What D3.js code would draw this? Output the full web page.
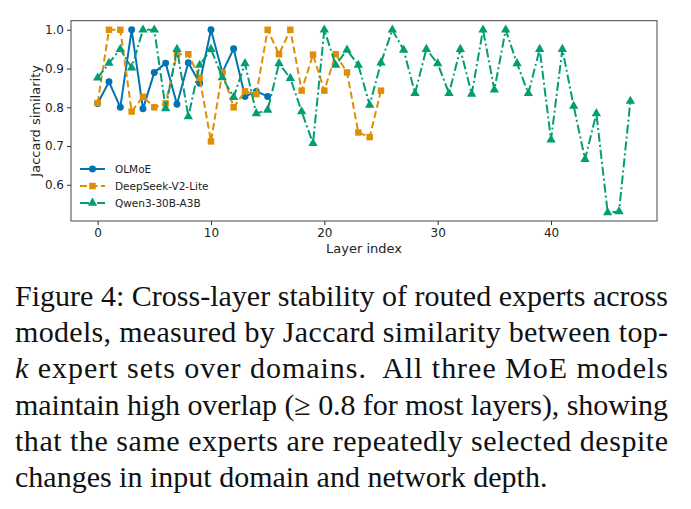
<!DOCTYPE html>
<html>
<head>
<meta charset="utf-8">
<script src="https://cdn.jsdelivr.net/npm/d3@7"></script>
<style>
  body { margin: 0; background: #fff; }
  svg { display: block; }
</style>
</head>
<body>
<div id="chart"></div>
<script>
// values, one entry per layer starting at 0
var olmoe = [0.81, 0.866, 0.80, 1.0, 0.796, 0.89, 0.914, 0.808, 0.915, 0.862, 1.0, 0.89, 0.951, 0.828, 0.841, 0.828];
var deepseek = [0.811, 1.0, 1.0, 0.789, 0.827, 0.80, 0.81, 0.937, 0.937, 0.876, 0.712, 0.89, 0.80, 0.841, 0.834,
  1.0, 0.937, 1.0, 0.843, 0.936, 0.843, 0.937, 0.89, 0.735, 0.723, 0.843];
var qwen = [0.876, 0.914, 0.95, 0.902, 1.0, 1.0, 0.797, 0.95, 0.776, 0.909, 0.95, 0.877, 0.826, 0.913, 0.784, 0.793,
  0.913, 0.875, 0.789, 0.707, 1.0, 0.909, 0.948, 0.909, 0.806, 0.915, 1.0, 0.948, 0.836, 0.95, 0.913, 0.836,
  0.95, 0.834, 1.0, 0.845, 1.0, 0.913, 0.836, 0.95, 0.716, 0.95, 0.803, 0.666, 0.784, 0.528, 0.531, 0.816];
var seriesNames = ["OLMoE", "DeepSeek-V2-Lite", "Qwen3-30B-A3B"];
var xTicks = [0, 10, 20, 30, 40];
var yTicks = [0.6, 0.7, 0.8, 0.9, 1.0];
var caption = [
  "Figure 4: Cross-layer stability of routed experts across",
  "models, measured by Jaccard similarity between top-",
  "k expert sets over domains.  All three MoE models",
  "maintain high overlap (\u2265 0.8 for most layers), showing",
  "that the same experts are repeatedly selected despite",
  "changes in input domain and network depth."
];

var svg = d3.select("#chart").append("svg")
    .attr("width", 691)
    .attr("height", 509),
    margin = {top: 20.7, left: 71, right: 657, bottom: 221};

var x = d3.scaleLinear().domain([-2.35, 49.35]).range([margin.left, margin.right]);
var y = d3.scaleLinear().domain([0.5065, 1.0235]).range([margin.bottom, margin.top]);

var series = [
  {name: seriesNames[0], values: olmoe, color: "#0173B2", dash: null, marker: d3.symbolCircle, size: 38},
  {name: seriesNames[1], values: deepseek, color: "#DE8F05", dash: "7,3.5", marker: d3.symbolSquare, size: 42},
  {name: seriesNames[2], values: qwen, color: "#029E73", dash: "9,3,2,3", marker: d3.symbolTriangle, size: 38}
];

var line = d3.line()
    .x(function(d, i) { return x(i); })
    .y(function(d) { return y(d); });

var plot = svg.append("g");

series.forEach(function(s) {
  plot.append("path")
      .datum(s.values)
      .attr("d", line)
      .attr("fill", "none")
      .attr("stroke", s.color)
      .attr("stroke-width", 2)
      .attr("stroke-dasharray", s.dash);

  plot.append("g").selectAll("path")
      .data(s.values)
    .enter().append("path")
      .attr("transform", function(d, i) { return "translate(" + x(i) + "," + y(d) + ")"; })
      .attr("d", d3.symbol().type(s.marker).size(s.size))
      .attr("fill", s.color);
});

// axes
var xAxis = svg.append("g")
    .attr("transform", "translate(0," + margin.bottom + ")")
    .call(d3.axisBottom(x).tickValues(xTicks).tickSize(4).tickPadding(3).tickSizeOuter(0));
var yAxis = svg.append("g")
    .attr("transform", "translate(" + margin.left + ",0)")
    .call(d3.axisLeft(y).tickValues(yTicks).tickFormat(d3.format(".1f")).tickSize(4).tickPadding(3).tickSizeOuter(0));

[xAxis, yAxis].forEach(function(a) {
  a.select(".domain").remove();
  a.selectAll("line").attr("stroke", "#333");
  a.selectAll("text")
      .attr("fill", "#222")
      .style("font-family", "DejaVu Sans")
      .style("font-size", "12px");
});

svg.append("rect")
    .attr("x", margin.left)
    .attr("y", margin.top)
    .attr("width", margin.right - margin.left)
    .attr("height", margin.bottom - margin.top)
    .attr("fill", "none")
    .attr("stroke", "#444")
    .attr("stroke-width", 1);

svg.append("text")
    .attr("x", (margin.left + margin.right) / 2)
    .attr("y", 252.5)
    .attr("text-anchor", "middle")
    .style("font-family", "DejaVu Sans")
    .style("font-size", "13px")
    .attr("fill", "#222")
    .text("Layer index");

svg.append("text")
    .attr("transform", "translate(40," + (margin.top + margin.bottom) / 2 + ") rotate(-90)")
    .attr("text-anchor", "middle")
    .style("font-family", "DejaVu Sans")
    .style("font-size", "13px")
    .attr("fill", "#222")
    .text("Jaccard similarity");

// legend
var legend = svg.append("g").selectAll("g")
    .data(series)
  .enter().append("g")
    .attr("transform", function(d, i) { return "translate(80," + (169 + i * 17) + ")"; });

legend.append("line")
    .attr("x1", 0).attr("x2", 25)
    .attr("stroke", function(d) { return d.color; })
    .attr("stroke-width", 2)
    .attr("stroke-dasharray", function(d) { return d.dash; });

legend.append("path")
    .attr("transform", "translate(12.5,0)")
    .attr("d", function(d) { return d3.symbol().type(d.marker).size(d.size)(); })
    .attr("fill", function(d) { return d.color; });

legend.append("text")
    .attr("x", 35)
    .attr("dy", "0.36em")
    .style("font-family", "DejaVu Sans")
    .style("font-size", "10.5px")
    .attr("fill", "#222")
    .text(function(d) { return d.name; });

// caption, justified line by line (last line left ragged)
var cap = svg.append("g")
    .style("font-family", "'Liberation Serif', serif")
    .style("font-size", "30px")
    .attr("fill", "#111");

caption.forEach(function(t, i) {
  var txt = cap.append("text")
      .attr("x", 15)
      .attr("y", 306 + i * 36.2)
      .style("white-space", "pre");
  if (i < caption.length - 1) {
    txt.attr("textLength", 653).attr("lengthAdjust", "spacing");
  }
  if (i === 2) {
    txt.append("tspan").style("font-style", "italic").text("k");
    txt.append("tspan").text(t.slice(1));
  } else {
    txt.text(t);
  }
});
</script>
</body>
</html>
